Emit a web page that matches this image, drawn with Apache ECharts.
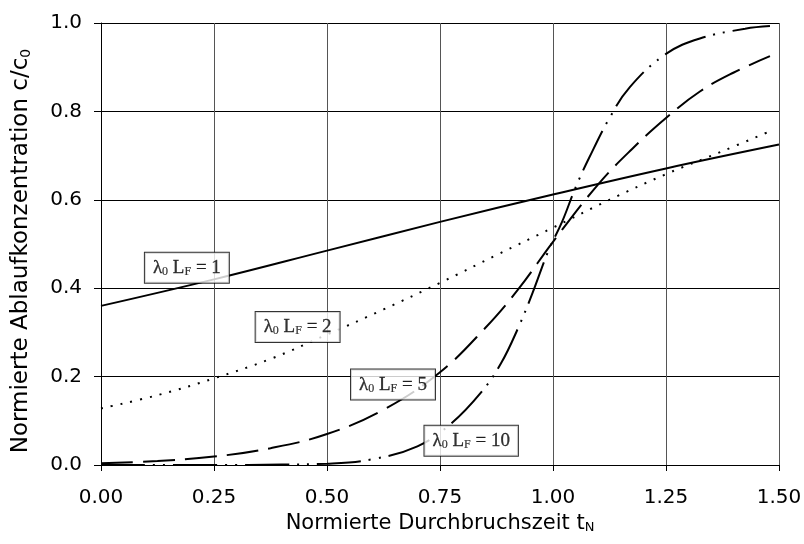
<!DOCTYPE html>
<html>
<head>
<meta charset="utf-8">
<script src="https://cdn.jsdelivr.net/npm/echarts@6/dist/echarts.min.js"></script>
<style>
  html, body { margin: 0; padding: 0; background: #fff; }
  #chart { width: 804px; height: 544px; }
</style>
</head>
<body>
<div id="chart"></div>
<script>
// t_N values and c/c0, one list per curve
const lf1 = [[0, 0.36], [0.25, 0.42], [0.5, 0.485], [0.75, 0.55], [1.0, 0.612], [1.25, 0.671], [1.5, 0.725]];
const lf2 = [[0, 0.128], [0.125, 0.158], [0.25, 0.196], [0.375, 0.24], [0.5, 0.295], [0.625, 0.352],
  [0.75, 0.412], [0.875, 0.475], [1.0, 0.537], [1.125, 0.6], [1.25, 0.658], [1.375, 0.71], [1.48, 0.755]];
const lf5 = [[0, 0.004], [0.125, 0.009], [0.25, 0.019], [0.375, 0.038], [0.5, 0.07], [0.625, 0.125],
  [0.75, 0.21], [0.85, 0.31], [0.925, 0.4], [1.0, 0.505], [1.1, 0.635], [1.175, 0.715], [1.25, 0.785],
  [1.325, 0.845], [1.4, 0.888], [1.48, 0.925]];
const lf10 = [[0, 0], [0.25, 0], [0.4, 0.001], [0.5, 0.003], [0.6, 0.013], [0.7, 0.042], [0.775, 0.094],
  [0.84, 0.163], [0.885, 0.23], [0.925, 0.315], [0.955, 0.39], [0.99, 0.485], [1.02, 0.55], [1.05, 0.628],
  [1.08, 0.695], [1.125, 0.785], [1.17, 0.855], [1.25, 0.93], [1.325, 0.965], [1.425, 0.987], [1.48, 0.993]];

const curveNames = ['1', '2', '5', '10'];
// where the boxed labels sit (data coords)
const labelPos = [[0.19, 0.446], [0.435, 0.312], [0.646, 0.182], [0.819, 0.055]];

const dashes = ['solid', [2, 8], [32, 10], [44, 8, 2, 8, 2, 8]];
const curves = [lf1, lf2, lf5, lf10];

const serif = 'Liberation Serif';
const sans = 'DejaVu Sans';

const chart = echarts.init(document.getElementById('chart'));

const lineSeries = curves.map((d, i) => ({
  type: 'line',
  data: d,
  smooth: 0.4,
  showSymbol: false,
  silent: true,
  lineStyle: { color: '#000', width: 2, type: dashes[i] }
}));

const labelSeries = {
  type: 'scatter',
  symbolSize: 0,
  silent: true,
  z: 10,
  data: labelPos.map((p, i) => ({
    value: p,
    label: { formatter: '{a|λ}{b|0}{a| L}{b|F}{a| = ' + curveNames[i] + '}' }
  })),
  label: {
    show: true,
    position: 'inside',
    backgroundColor: '#fff',
    borderColor: '#000',
    borderWidth: 1,
    padding: [5, 8, 5, 8],
    rich: {
      a: { fontFamily: serif, fontSize: 19, color: '#000', lineHeight: 20, textBorderColor: '#000', textBorderWidth: 0.3 },
      b: { fontFamily: serif, fontSize: 12, color: '#000', lineHeight: 10, verticalAlign: 'bottom', textBorderColor: '#000', textBorderWidth: 0.2 }
    }
  }
};

chart.setOption({
  animation: false,
  grid: { left: 101, right: 25, top: 23, bottom: 79, containLabel: false, outerBoundsMode: 'none' },
  xAxis: {
    type: 'value',
    min: 0, max: 1.5, interval: 0.25,
    name: 'Normierte Durchbruchszeit t{s|N}',
    nameLocation: 'middle',
    nameGap: 43,
    nameTextStyle: {
      fontFamily: sans, fontSize: 21, color: '#000',
      rich: { s: { fontFamily: sans, fontSize: 13, color: '#000', verticalAlign: 'bottom', lineHeight: 8 } }
    },
    axisLine: { lineStyle: { color: '#000', width: 1 } },
    axisTick: { show: true, length: 6, lineStyle: { color: '#000' } },
    axisLabel: {
      fontFamily: sans, fontSize: 20, color: '#000', margin: 23,
      formatter: v => v.toFixed(2)
    },
    splitLine: { show: true, lineStyle: { color: '#555', width: 1 } }
  },
  yAxis: {
    type: 'value',
    min: 0, max: 1, interval: 0.2,
    name: 'Normierte Ablaufkonzentration c/c{s|0}',
    nameLocation: 'middle',
    nameGap: 68,
    nameTextStyle: {
      fontFamily: sans, fontSize: 23, color: '#000',
      padding: [0, 14, 0, 0],
      rich: { s: { fontFamily: sans, fontSize: 14, color: '#000', verticalAlign: 'bottom', lineHeight: 8 } }
    },
    axisLine: { show: true, lineStyle: { color: '#000', width: 1 } },
    axisTick: { show: true, length: 7, lineStyle: { color: '#000' } },
    axisLabel: {
      fontFamily: sans, fontSize: 20, color: '#000', margin: 19,
      formatter: v => v.toFixed(1)
    },
    splitLine: { show: true, lineStyle: { color: '#000', width: 1 } }
  },
  series: lineSeries.concat([labelSeries])
});
</script>
</body>
</html>
